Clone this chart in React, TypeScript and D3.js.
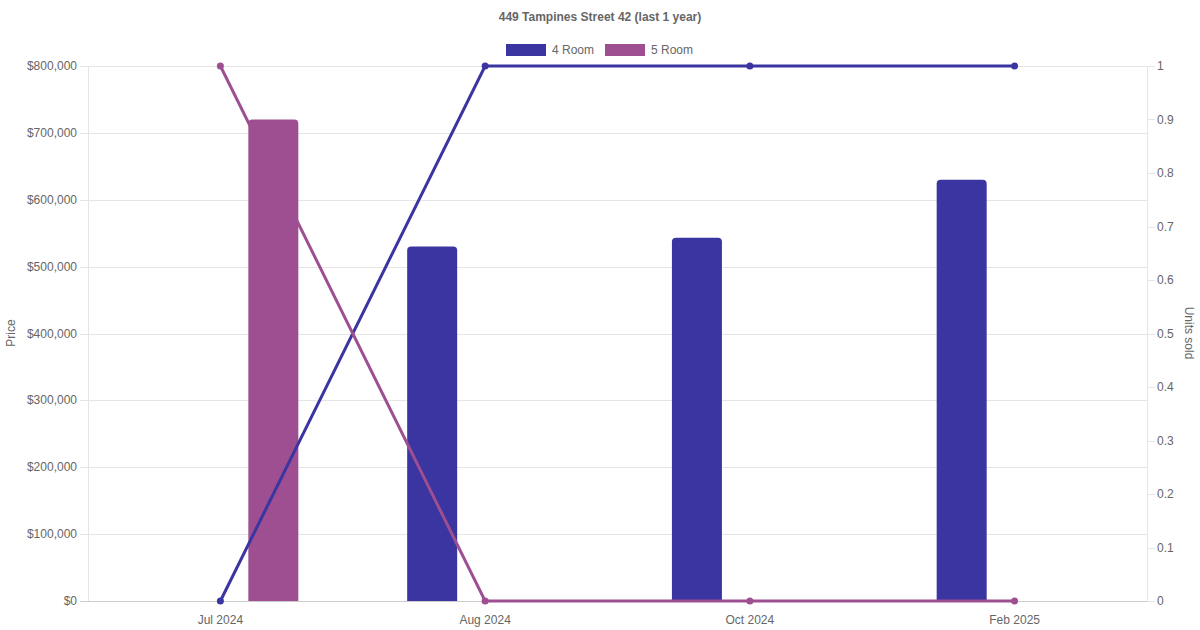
import React from "react";
import * as d3 from "d3";

const categories = ["Jul 2024", "Aug 2024", "Oct 2024", "Feb 2025"];
const seriesNames = ["4 Room", "5 Room"];
const price4Room: (number | null)[] = [null, 530000, 543000, 630000];
const price5Room: (number | null)[] = [720000, null, null, null];
const units4Room = [0, 1, 1, 1];
const units5Room = [1, 0, 0, 0];
const priceTicks = [0, 100000, 200000, 300000, 400000, 500000, 600000, 700000, 800000];
const unitTicks = [0, 0.1, 0.2, 0.3, 0.4, 0.5, 0.6, 0.7, 0.8, 0.9, 1];
const title = "449 Tampines Street 42 (last 1 year)";

const COLORS: Record<string, string> = { "4 Room": "#3a35a0", "5 Room": "#9e4f92" };
const W = 1200, H = 630;
const M = { left: 88, right: 1147, top: 66, bottom: 601 };
const FONT = "'Liberation Sans', Arial, Helvetica, sans-serif";
const TXT = "#666";
const BAR_W = 50;
const crisp = (v: number) => Math.round(v) + 0.5;

function topRoundedRect(x: number, y: number, w: number, h: number, r: number) {
  const rr = Math.min(r, w / 2, h);
  return `M${x},${y + h}V${y + rr}Q${x},${y} ${x + rr},${y}H${x + w - rr}Q${x + w},${y} ${x + w},${y + rr}V${y + h}Z`;
}

export default function App() {
  const x = d3.scaleBand<string>().domain(categories).range([M.left, M.right]).paddingInner(0).paddingOuter(0);
  const inner = d3.scaleBand<string>().domain(seriesNames).range([0, x.bandwidth() * 0.8]);
  const yL = d3.scaleLinear().domain([0, 800000]).range([M.bottom, M.top]);
  const yR = d3.scaleLinear().domain([0, 1]).range([M.bottom, M.top]);
  const fmt = (v: number) => "$" + d3.format(",")(v);
  const center = (c: string) => (x(c) as number) + x.bandwidth() / 2;

  const priceSeries: Record<string, (number | null)[]> = { "4 Room": price4Room, "5 Room": price5Room };
  const unitSeries: Record<string, number[]> = { "4 Room": units4Room, "5 Room": units5Room };

  const line = d3.line<[number, number]>().x((d) => d[0]).y((d) => d[1]);

  return (
    <svg width={W} height={H} style={{ position: "absolute", left: 0, top: 0, background: "#fff" }} fontFamily={FONT}>
      <text x={W / 2} y={21} textAnchor="middle" fontSize={12} fontWeight="bold" fill={TXT}>{title}</text>
      {seriesNames.map((s, i) => {
        const lx = i === 0 ? 506 : 605;
        return (
          <g key={s}>
            <rect x={lx} y={44} width={40} height={12} fill={COLORS[s]} />
            <text x={lx + 46} y={54} fontSize={12} fill={TXT}>{s}</text>
          </g>
        );
      })}
      {priceTicks.map((t) => (
        <g key={t}>
          <line x1={M.left - 8} x2={M.right} y1={crisp(yL(t))} y2={crisp(yL(t))} stroke={t === 0 ? "#ccc" : "#e5e5e5"} strokeWidth={1} />
          <text x={M.left - 11} y={yL(t) + 4} textAnchor="end" fontSize={12} fill={TXT}>{fmt(t)}</text>
        </g>
      ))}
      <line x1={crisp(M.left)} x2={crisp(M.left)} y1={M.top} y2={M.bottom} stroke="#e5e5e5" />
      <line x1={crisp(M.right)} x2={crisp(M.right)} y1={M.top} y2={M.bottom} stroke="#e5e5e5" />
      {unitTicks.map((t) => (
        <g key={t}>
          <line x1={M.right} x2={M.right + 8} y1={crisp(yR(t))} y2={crisp(yR(t))} stroke="#e5e5e5" />
          <text x={M.right + 10} y={yR(t) + 4} textAnchor="start" fontSize={12} fill={TXT}>{String(Math.round(t * 10) / 10)}</text>
        </g>
      ))}
      <text transform={`translate(15,333) rotate(-90)`} textAnchor="middle" fontSize={12} fill={TXT}>Price</text>
      <text transform={`translate(1185,333) rotate(90)`} textAnchor="middle" fontSize={12} fill={TXT}>Units sold</text>
      {categories.map((c) => (
        <text key={c} x={center(c)} y={624} textAnchor="middle" fontSize={12} fill={TXT}>{c}</text>
      ))}
      {seriesNames.map((s) =>
        categories.map((c, i) => {
          const v = priceSeries[s][i];
          if (v == null) return null;
          const slotCenter = (x(c) as number) + x.bandwidth() * 0.1 + (inner(s) as number) + inner.bandwidth() / 2;
          const bx = slotCenter - BAR_W / 2;
          const by = yL(v);
          return <path key={s + c} d={topRoundedRect(bx, by, BAR_W, M.bottom - by, 4)} fill={COLORS[s]} />;
        })
      )}
      {seriesNames.map((s) => {
        const pts: [number, number][] = categories.map((c, i) => [center(c), yR(unitSeries[s][i])]);
        return (
          <g key={s}>
            <path d={line(pts) as string} fill="none" stroke={COLORS[s]} strokeWidth={3} />
            {pts.map((p, i) => (
              <circle key={i} cx={p[0]} cy={p[1]} r={3.5} fill={COLORS[s]} />
            ))}
          </g>
        );
      })}
    </svg>
  );
}
